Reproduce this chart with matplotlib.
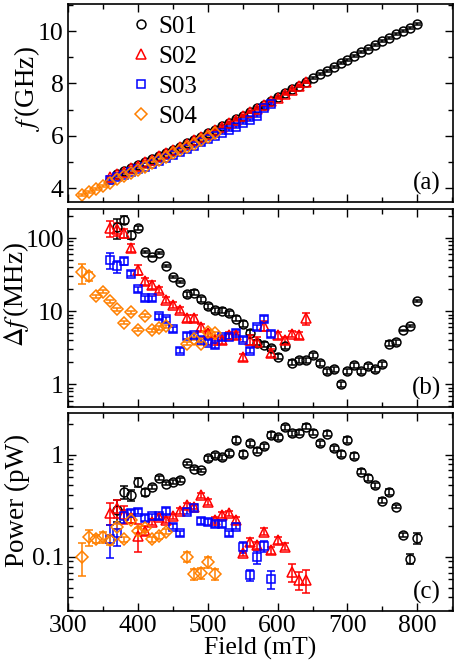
import glob
import numpy as np
import matplotlib
matplotlib.use("Agg")
import matplotlib.pyplot as plt
from matplotlib import font_manager
from matplotlib.ticker import MultipleLocator, LogLocator, NullFormatter, FixedLocator

# Times-like serif: Liberation Serif if present, else the STIX font shipped with matplotlib
for p in glob.glob('/usr/**/LiberationSerif*.ttf', recursive=True):
    font_manager.fontManager.addfont(p)
names = {f.name for f in font_manager.fontManager.ttflist}
serif = [n for n in ['Liberation Serif', 'Times New Roman', 'STIXGeneral', 'DejaVu Serif']
         if n in names]

plt.rcParams['font.family'] = serif
plt.rcParams['mathtext.fontset'] = 'stix'
plt.rcParams['font.size'] = 18

# ---- panel (a): resonance frequency (GHz) ----
field_a_s01 = list(range(370, 810, 10))
f_s01 = [4.55, 4.66, 4.77, 4.88, 5.00, 5.11, 5.23, 5.35, 5.47, 5.59, 5.72, 5.84, 5.97, 6.10,
         6.23, 6.36, 6.49, 6.63, 6.77, 6.91, 7.05, 7.19, 7.33, 7.47, 7.62, 7.77, 7.92, 8.07,
         8.21, 8.35, 8.49, 8.63, 8.77, 8.91, 9.05, 9.19, 9.33, 9.47, 9.61, 9.74, 9.87, 9.99,
         10.12, 10.26]
field_a_s02 = list(range(360, 650, 10))
f_s02 = [4.42, 4.53, 4.64, 4.76, 4.87, 4.99, 5.10, 5.22, 5.34, 5.46, 5.58, 5.71, 5.83, 5.96,
         6.09, 6.22, 6.35, 6.48, 6.62, 6.76, 6.90, 7.04, 7.18, 7.32, 7.46, 7.61, 7.76, 7.91, 8.06]
field_a_s03 = list(range(360, 600, 10))
f_s03 = [4.32, 4.42, 4.52, 4.62, 4.73, 4.83, 4.94, 5.05, 5.16, 5.27, 5.39, 5.51, 5.63, 5.75,
         5.87, 6.00, 6.12, 6.22, 6.35, 6.48, 6.62, 6.76, 7.08, 7.22]
field_a_s04 = list(range(320, 520, 10))
f_s04 = [3.75, 3.86, 3.98, 4.10, 4.22, 4.34, 4.46, 4.58, 4.71, 4.83, 4.95, 5.08, 5.20, 5.33,
         5.45, 5.58, 5.71, 5.84, 5.97, 6.10]
ferr = 0.04

# ---- panel (b): linewidth (MHz) ----
field_s01 = list(range(370, 810, 10))
df_s01 = [140, 178, 111, 137, 64, 56, 62, 42, 29, 25, 17, 18, 14.6, 11.8, 10.4, 10.2, 9.4, 7.9,
          6.7, 5.1, 3.7, 3.5, 3.1, 2.4, 3.35, 1.98, 2.15, 2.15, 2.5, 1.94, 1.5, 1.6, 1.0, 1.5,
          1.84, 1.5, 1.78, 1.6, 1.88, 3.6, 3.8, 5.5, 6.3, 13.8]
df_s01_rel = [0.3, 0.12, 0.12, 0.06, 0.03, 0.03, 0.03, 0.03, 0.03, 0.03, 0.08, 0.08, 0.08, 0.08,
              0.08, 0.08, 0.08, 0.08, 0.08, 0.08, 0.08, 0.08, 0.08, 0.08, 0.08, 0.08, 0.08, 0.08,
              0.08, 0.08, 0.08, 0.08, 0.08, 0.08, 0.08, 0.08, 0.08, 0.08, 0.08, 0.08, 0.08, 0.02,
              0.02, 0.02]
field_s02 = list(range(360, 650, 10))
df_s02 = [137, 133, 117, 73, 37, 25.7, 23, 19.6, 14.3, 12.2, 10.5, 8.0, 8.0, 6.0, 5.0, 4.1,
          4.0, 4.7, 4.7, 2.34, 4.1, 3.85, 6.3, 2.7, 4.7, 4.0, 4.9, 4.7, 8.0]
df_s02_rel = [0.25, 0.2, 0.15, 0.12, 0.15, 0.12, 0.12, 0.1, 0.1, 0.1, 0.1, 0.1, 0.1, 0.1, 0.1,
              0.1, 0.1, 0.1, 0.1, 0.12, 0.15, 0.15, 0.15, 0.12, 0.1, 0.1, 0.1, 0.12, 0.2]
field_s03 = list(range(360, 600, 10))
df_s03 = [50, 41, 48, 32.5, 20, 15, 15, 8.6, 7.8, 5.7, 2.9, 4.6, 4.7, 4.1, 3.7, 3.4, 4.4, 4.5,
          5.1, 4.1, 2.9, 6.0, 7.8, 4.9]
df_s03_rel = [0.25, 0.2, 0.1, 0.08, 0.08, 0.08, 0.08, 0.08, 0.08, 0.08, 0.08, 0.08, 0.08, 0.08,
              0.08, 0.08, 0.08, 0.08, 0.08, 0.08, 0.08, 0.08, 0.1, 0.1]
field_s04 = [320, 330, 340, 350, 360, 370, 380, 390, 400, 410, 420, 430, 440, 470, 480, 490,
             500, 510]
df_s04 = [34, 30, 16, 18.4, 13.6, 10.6, 7.0, 9.7, 5.6, 8.7, 5.5, 5.9, 6.2, 3.6, 4.2, 3.6, 5.2,
          5.0]
df_s04_rel = [0.3, 0.15, 0.05, 0.05, 0.05, 0.05, 0.05, 0.05, 0.05, 0.05, 0.05, 0.05, 0.05, 0.05,
              0.05, 0.05, 0.05, 0.05]

# ---- panel (c): power (pW) ----
p_s01 = [0.29, 0.43, 0.40, 0.54, 0.43, 0.485, 0.59, 0.52, 0.54, 0.565, 0.82, 0.73, 0.70, 0.92,
         0.98, 0.94, 1.03, 1.39, 1.015, 1.29, 1.09, 1.2, 1.56, 1.48, 1.85, 1.62, 1.64, 1.88,
         1.64, 1.29, 1.6, 1.15, 1.015, 1.39, 0.97, 0.68, 0.59, 0.50, 0.354, 0.43, 0.31, 0.163,
         0.096, 0.151]
p_s01_rel = [0.25, 0.15, 0.12, 0.1, 0.08, 0.04, 0.04, 0.04, 0.04, 0.04, 0.03, 0.03, 0.03, 0.06,
             0.06, 0.06, 0.06, 0.06, 0.06, 0.06, 0.06, 0.06, 0.06, 0.06, 0.06, 0.06, 0.06, 0.06,
             0.06, 0.06, 0.06, 0.06, 0.06, 0.06, 0.06, 0.06, 0.06, 0.06, 0.06, 0.06, 0.04, 0.05,
             0.12, 0.12]
p_s02 = [0.27, 0.30, 0.26, 0.24, 0.16, 0.18, 0.22, 0.245, 0.23, 0.25, 0.28, 0.32, 0.31, 0.40,
         0.345, 0.23, 0.256, 0.266, 0.23, 0.108, 0.14, 0.13, 0.176, 0.116, 0.146, 0.126, 0.071,
         0.059, 0.059]
p_s02_rel = [0.25, 0.2, 0.2, 0.1, 0.3, 0.1, 0.06, 0.06, 0.06, 0.06, 0.06, 0.06, 0.06, 0.06,
             0.06, 0.06, 0.06, 0.06, 0.06, 0.06, 0.08, 0.08, 0.08, 0.08, 0.08, 0.08, 0.2, 0.2, 0.25]
p_s03 = [0.15, 0.17, 0.25, 0.27, 0.276, 0.24, 0.25, 0.25, 0.28, 0.197, 0.17, 0.277, 0.30, 0.225,
         0.22, 0.21, 0.21, 0.17, 0.197, 0.125, 0.066, 0.099, 0.127, 0.06]
p_s03_rel = [0.35, 0.25, 0.15, 0.06, 0.06, 0.06, 0.06, 0.06, 0.06, 0.06, 0.06, 0.06, 0.06, 0.06,
             0.06, 0.06, 0.06, 0.06, 0.06, 0.12, 0.12, 0.15, 0.12, 0.2]
p_s04 = [0.10, 0.155, 0.15, 0.155, 0.146, 0.197, 0.148, 0.23, 0.18, 0.19, 0.148, 0.16, 0.176,
         0.10, 0.068, 0.069, 0.089, 0.068]
p_s04_rel = [0.35, 0.18, 0.1, 0.12, 0.1, 0.06, 0.06, 0.06, 0.06, 0.06, 0.06, 0.06, 0.06, 0.12,
             0.12, 0.12, 0.12, 0.12]

labels = ['S01', 'S02', 'S03', 'S04']
colors = ['black', 'red', 'blue', '#ff8000']
markers = ['o', '^', 's', 'D']
msizes = [6.4, 7.2, 6.3, 6.2]

fig = plt.figure(figsize=(4.57, 6.72), dpi=100)
L, W = 68 / 457, 385 / 457
ax_a = fig.add_axes([L, 1 - 202 / 672, W, 198 / 672])
ax_b = fig.add_axes([L, 1 - 407 / 672, W, 198 / 672])
ax_c = fig.add_axes([L, 1 - 611 / 672, W, 198 / 672])


def draw(ax, x, y, yerr, i, lab=None):
    ax.errorbar(x, y, yerr=yerr, fmt=markers[i], ms=msizes[i], mfc='none', mec=colors[i],
                mew=1.1, color=colors[i], elinewidth=1.1, capsize=3, capthick=1.1, label=lab)


a_sets = [(field_a_s01, f_s01), (field_a_s02, f_s02), (field_a_s03, f_s03),
          (field_a_s04, f_s04)]
for i, (x, y) in enumerate(a_sets):
    draw(ax_a, x, y, ferr, i, labels[i])

b_sets = [(field_s01, df_s01, df_s01_rel), (field_s02, df_s02, df_s02_rel),
          (field_s03, df_s03, df_s03_rel), (field_s04, df_s04, df_s04_rel)]
for i, (x, y, r) in enumerate(b_sets):
    draw(ax_b, x, y, np.array(y) * np.array(r), i)

c_sets = [(field_s01, p_s01, p_s01_rel), (field_s02, p_s02, p_s02_rel),
          (field_s03, p_s03, p_s03_rel), (field_s04, p_s04, p_s04_rel)]
for i, (x, y, r) in enumerate(c_sets):
    draw(ax_c, x, y, np.array(y) * np.array(r), i)

for ax in (ax_a, ax_b, ax_c):
    ax.set_xlim(300, 851)
    ax.xaxis.set_major_locator(MultipleLocator(100))
    ax.xaxis.set_minor_locator(MultipleLocator(50))
    ax.tick_params(which='both', direction='in', top=True, right=True, width=1.0)
    ax.tick_params(which='major', length=6, labelsize=18.5, pad=3)
    ax.tick_params(which='minor', length=3.5)
    for sp in ax.spines.values():
        sp.set_linewidth(1.2)

ax_a.tick_params(labelbottom=False)
ax_b.tick_params(labelbottom=False)

ax_a.set_ylim(3.48, 11.03)
ax_a.yaxis.set_major_locator(FixedLocator([4, 6, 8, 10]))
ax_a.yaxis.set_minor_locator(MultipleLocator(1))

ax_b.set_yscale('log')
ax_b.set_ylim(0.49, 250)
ax_b.yaxis.set_major_locator(FixedLocator([1, 10, 100]))
ax_b.yaxis.set_minor_locator(LogLocator(base=10, subs=np.arange(2, 10), numticks=20))
ax_b.yaxis.set_minor_formatter(NullFormatter())
ax_b.set_yticklabels(['1', '10', '100'])

ax_c.set_yscale('log')
ax_c.set_ylim(0.0295, 2.55)
ax_c.yaxis.set_major_locator(FixedLocator([0.1, 1]))
ax_c.yaxis.set_minor_locator(LogLocator(base=10, subs=np.arange(2, 10), numticks=20))
ax_c.yaxis.set_minor_formatter(NullFormatter())
ax_c.set_yticklabels(['0.1', '1'])

ax_a.set_ylabel('$f\\,$(GHz)', fontsize=19.5)
ax_b.set_ylabel('$\\Delta f\\,$(MHz)', fontsize=19.5)
ax_c.set_ylabel('Power (pW)', fontsize=19.5)
for ax, xc, yc in ((ax_a, -0.106, 0.573), (ax_b, -0.135, 0.566), (ax_c, -0.132, 0.556)):
    ax.yaxis.label.set_verticalalignment('center')
    ax.yaxis.set_label_coords(xc, yc)
ax_c.set_xlabel('Field (mT)', fontsize=18.5, labelpad=0)

for ax, t in zip((ax_a, ax_b, ax_c), ('(a)', '(b)', '(c)')):
    ax.text(0.968, 0.035, t, transform=ax.transAxes, ha='right', va='bottom', fontsize=18)

handles = [plt.Line2D([], [], ls='none', marker=markers[i], ms=msizes[i], mfc='none',
                      mec=colors[i], mew=1.1) for i in range(4)]
ax_a.legend(handles, labels, loc='upper left', frameon=False, fontsize=18,
            handlelength=0.8, handletextpad=0.3, labelspacing=0.3,
            borderpad=0.2, borderaxespad=0.25, bbox_to_anchor=(0.135, 1.0))

fig.savefig('out.png', dpi=100)
